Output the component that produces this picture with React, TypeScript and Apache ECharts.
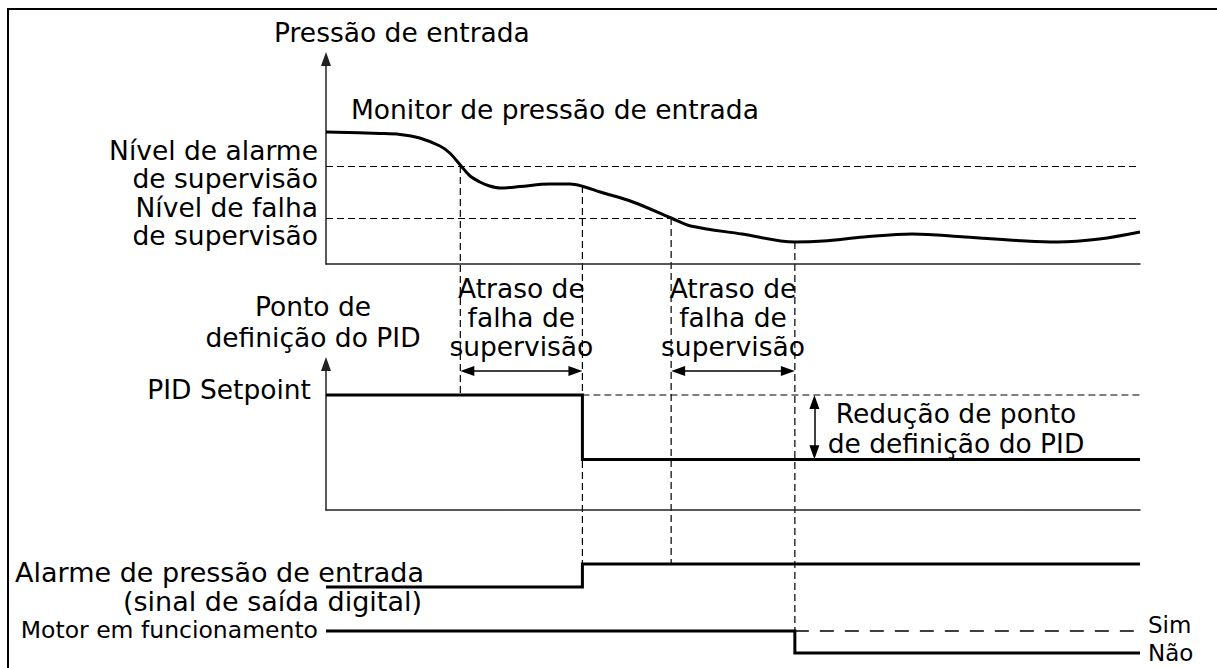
import React, { useEffect, useRef } from 'react';
import * as echarts from 'echarts';

const FONT = "'DejaVu Sans', Verdana, sans-serif";
const INK = '#000';
const AXIS = '#222';

// time runs in arbitrary units 0..100 along every panel
const eventNames = ['alarmCrossing', 'setpointReduction', 'faultCrossing', 'motorStop'];
const eventTimes = [16.5, 31.5, 42.4, 57.6];
const eventPressure = [49, 39, 23, 11];
const connectorEndGrid = [1, 2, 2, 3];
const connectorEndValue = [75, 1, 1, 1];

// inlet pressure curve
const curveTimes = [0, 6.6, 9.1, 11.5, 14.0, 15.2, 16.6, 17.7, 18.9, 20.1, 21.4, 23.8, 27.5, 30.0, 31.4, 33.7, 37.7, 42.4, 44.8, 51.1, 57.6, 61.1, 66.1, 72.0, 78.5, 86.0, 89.9, 95.0, 100];
const curvePressure = [66, 65.3, 64.8, 63, 59, 55.5, 49, 44, 41, 39, 38, 38.7, 40, 40, 39, 36, 31, 23, 19, 15, 11, 11.5, 13.5, 15, 13.5, 11.5, 11, 12.5, 16];
const levelValues = [49, 23];
const levelLabels = ['Nível de alarme\nde supervisão', 'Nível de falha\nde supervisão'];

// PID setpoint
const setpointTimes = [0, 31.5, 31.5, 100];
const setpointValues = [75, 75, 33, 33];
const setpointRefTimes = [31.5, 100];
const setpointRefValues = [75, 75];
const delayArrowLevel = 90.6;
const reductionArrowTime = 60;
const reductionRange = [75, 33];

// digital signals
const alarmTimes = [0, 31.5, 31.5, 100];
const alarmStates = [0, 0, 1, 1];
const motorTimes = [0, 57.6, 57.6, 100];
const motorStates = [1, 1, 0, 0];
const motorRefTimes = [57.6, 100];
const motorRefStates = [1, 1];
const motorStateLabels = ['Sim', 'Não'];

const zip = (a: number[], b: number[]) => a.map((v, i) => [v, b[i]]);

const solid = (w = 3) => ({ color: INK, width: w, cap: 'butt', join: 'miter' });
const dashed = { color: INK, width: 1.2, type: [7, 4] };

const T = 100;
const arrowInsetT = 0.86;
const arrowInsetV = 4.6;

const hiddenAxis = (g: number, max: number) => ({ gridIndex: g, type: 'value', min: 0, max, show: false });

const option: any = {
  animation: false,
  backgroundColor: '#fff',
  grid: [
    { left: 326, top: 59, width: 814, height: 205 },
    { left: 326, top: 364, width: 814, height: 146 },
    { left: 326, top: 564, width: 814, height: 23 },
    { left: 326, top: 631, width: 814, height: 22 },
  ],
  xAxis: [
    { gridIndex: 0, type: 'value', min: 0, max: T, axisLine: { lineStyle: { color: AXIS, width: 1.5 } }, axisTick: { show: false }, axisLabel: { show: false }, splitLine: { show: false } },
    { gridIndex: 1, type: 'value', min: 0, max: T, axisLine: { lineStyle: { color: AXIS, width: 1.5 } }, axisTick: { show: false }, axisLabel: { show: false }, splitLine: { show: false } },
    hiddenAxis(2, T),
    hiddenAxis(3, T),
  ],
  yAxis: [
    { gridIndex: 0, type: 'value', min: 0, max: 102.5, axisLine: { show: true, symbol: ['none', 'triangle'], symbolSize: [10, 14], lineStyle: { color: AXIS, width: 1.5 } }, axisTick: { show: false }, axisLabel: { show: false }, splitLine: { show: false } },
    { gridIndex: 1, type: 'value', min: 0, max: 95.2, axisLine: { show: true, symbol: ['none', 'triangle'], symbolSize: [10, 14], lineStyle: { color: AXIS, width: 1.5 } }, axisTick: { show: false }, axisLabel: { show: false }, splitLine: { show: false } },
    hiddenAxis(2, 1),
    hiddenAxis(3, 1),
  ],
  series: [
    {
      name: 'Pressão de entrada', type: 'line', xAxisIndex: 0, yAxisIndex: 0,
      data: zip(curveTimes, curvePressure), smooth: 0.35, showSymbol: false, clip: false,
      lineStyle: solid(3), silent: true,
      markLine: {
        silent: true, symbol: ['none', 'none'], label: { show: false },
        lineStyle: dashed,
        data: levelValues.map((v) => ({ yAxis: v })),
      },
    },
    {
      name: 'PID Setpoint', type: 'line', xAxisIndex: 1, yAxisIndex: 1,
      data: zip(setpointTimes, setpointValues), showSymbol: false, clip: false,
      lineStyle: solid(3), silent: true,
      markLine: {
        silent: true, symbol: ['triangle', 'triangle'], symbolSize: [10, 14], label: { show: false },
        lineStyle: { color: INK, width: 1.5, type: 'solid' },
        data: [
          [{ coord: [eventTimes[0] + arrowInsetT, delayArrowLevel] }, { coord: [eventTimes[1] - arrowInsetT, delayArrowLevel] }],
          [{ coord: [eventTimes[2] + arrowInsetT, delayArrowLevel] }, { coord: [eventTimes[3] - arrowInsetT, delayArrowLevel] }],
          [{ coord: [reductionArrowTime, reductionRange[0] - arrowInsetV] }, { coord: [reductionArrowTime, reductionRange[1] + arrowInsetV] }],
        ],
      },
    },
    {
      name: 'setpointRef', type: 'line', xAxisIndex: 1, yAxisIndex: 1,
      data: zip(setpointRefTimes, setpointRefValues), showSymbol: false, clip: false,
      lineStyle: dashed, silent: true,
    },
    {
      name: 'Alarme', type: 'line', xAxisIndex: 2, yAxisIndex: 2,
      data: zip(alarmTimes, alarmStates), showSymbol: false, clip: false,
      lineStyle: solid(3), silent: true,
    },
    {
      name: 'Motor', type: 'line', xAxisIndex: 3, yAxisIndex: 3,
      data: zip(motorTimes, motorStates), showSymbol: false, clip: false,
      lineStyle: solid(3), silent: true,
    },
    {
      name: 'motorRef', type: 'line', xAxisIndex: 3, yAxisIndex: 3,
      data: zip(motorRefTimes, motorRefStates), showSymbol: false, clip: false,
      lineStyle: { color: INK, width: 1.5, type: [14, 11] }, silent: true,
    },
  ],
};

const txt = (text: string, x: number, y: number, align: string, fontSize = 26.5, lineHeight = 29) => ({
  type: 'text', x, y, silent: true, z: 10,
  style: { text, fill: INK, fontSize, fontFamily: FONT, align, verticalAlign: 'middle', lineHeight },
});

export default function App() {
  const ref = useRef<HTMLDivElement>(null);
  useEffect(() => {
    const el = ref.current!;
    const chart = echarts.init(el, null, { renderer: 'svg' });
    chart.setOption(option);
    const px = (g: number, t: number, v: number) => chart.convertToPixel({ gridIndex: g }, [t, v]) as number[];

    const elements: any[] = [];
    elements.push({ type: 'rect', silent: true, shape: { x: 8, y: 9, width: 1240, height: 700 }, style: { fill: 'none', stroke: INK, lineWidth: 2 } });

    eventNames.forEach((_, i) => {
      const a = px(0, eventTimes[i], eventPressure[i]);
      const b = px(connectorEndGrid[i], eventTimes[i], connectorEndValue[i]);
      elements.push({ type: 'line', silent: true, shape: { x1: a[0], y1: a[1], x2: b[0], y2: b[1] }, style: { stroke: INK, lineWidth: 1.2, lineDash: [7, 4] } });
    });

    // level labels beside their dashed lines
    const levelLabelY = [164, 221];
    levelLabels.forEach((label, i) => {
      elements.push(txt(label, 318, levelLabelY[i], 'right', 26.5, 28));
    });

    elements.push(txt('Pressão de entrada', 274, 32, 'left'));
    elements.push(txt('Monitor de pressão de entrada', 351, 109, 'left'));

    const d1 = (px(1, eventTimes[0], 0)[0] + px(1, eventTimes[1], 0)[0]) / 2;
    const d2 = (px(1, eventTimes[2], 0)[0] + px(1, eventTimes[3], 0)[0]) / 2;
    elements.push(txt('Atraso de\nfalha de\nsupervisão', d1, 317, 'center'));
    elements.push(txt('Atraso de\nfalha de\nsupervisão', d2, 317, 'center'));

    elements.push(txt('Ponto de\ndefinição do PID', 313, 322, 'center', 26.5, 31));
    elements.push(txt('PID Setpoint', 311, 389, 'right'));
    elements.push(txt('Redução de ponto\nde definição do PID', 956, 428, 'center', 26.5, 30));

    elements.push(txt('Alarme de pressão de entrada', 424, 572, 'right', 27));
    elements.push(txt('(sinal de saída digital)', 422, 601, 'right', 27));
    elements.push(txt('Motor em funcionamento', 318, 630, 'right', 23.5, 26));
    elements.push(txt(motorStateLabels.join('\n'), 1148, 639, 'left', 23, 27.5));

    chart.setOption({ graphic: { elements } });
    return () => chart.dispose();
  }, []);
  return <div ref={ref} style={{ position: 'fixed', left: 0, top: 0, width: 1217, height: 668, background: '#fff' }} />;
}
